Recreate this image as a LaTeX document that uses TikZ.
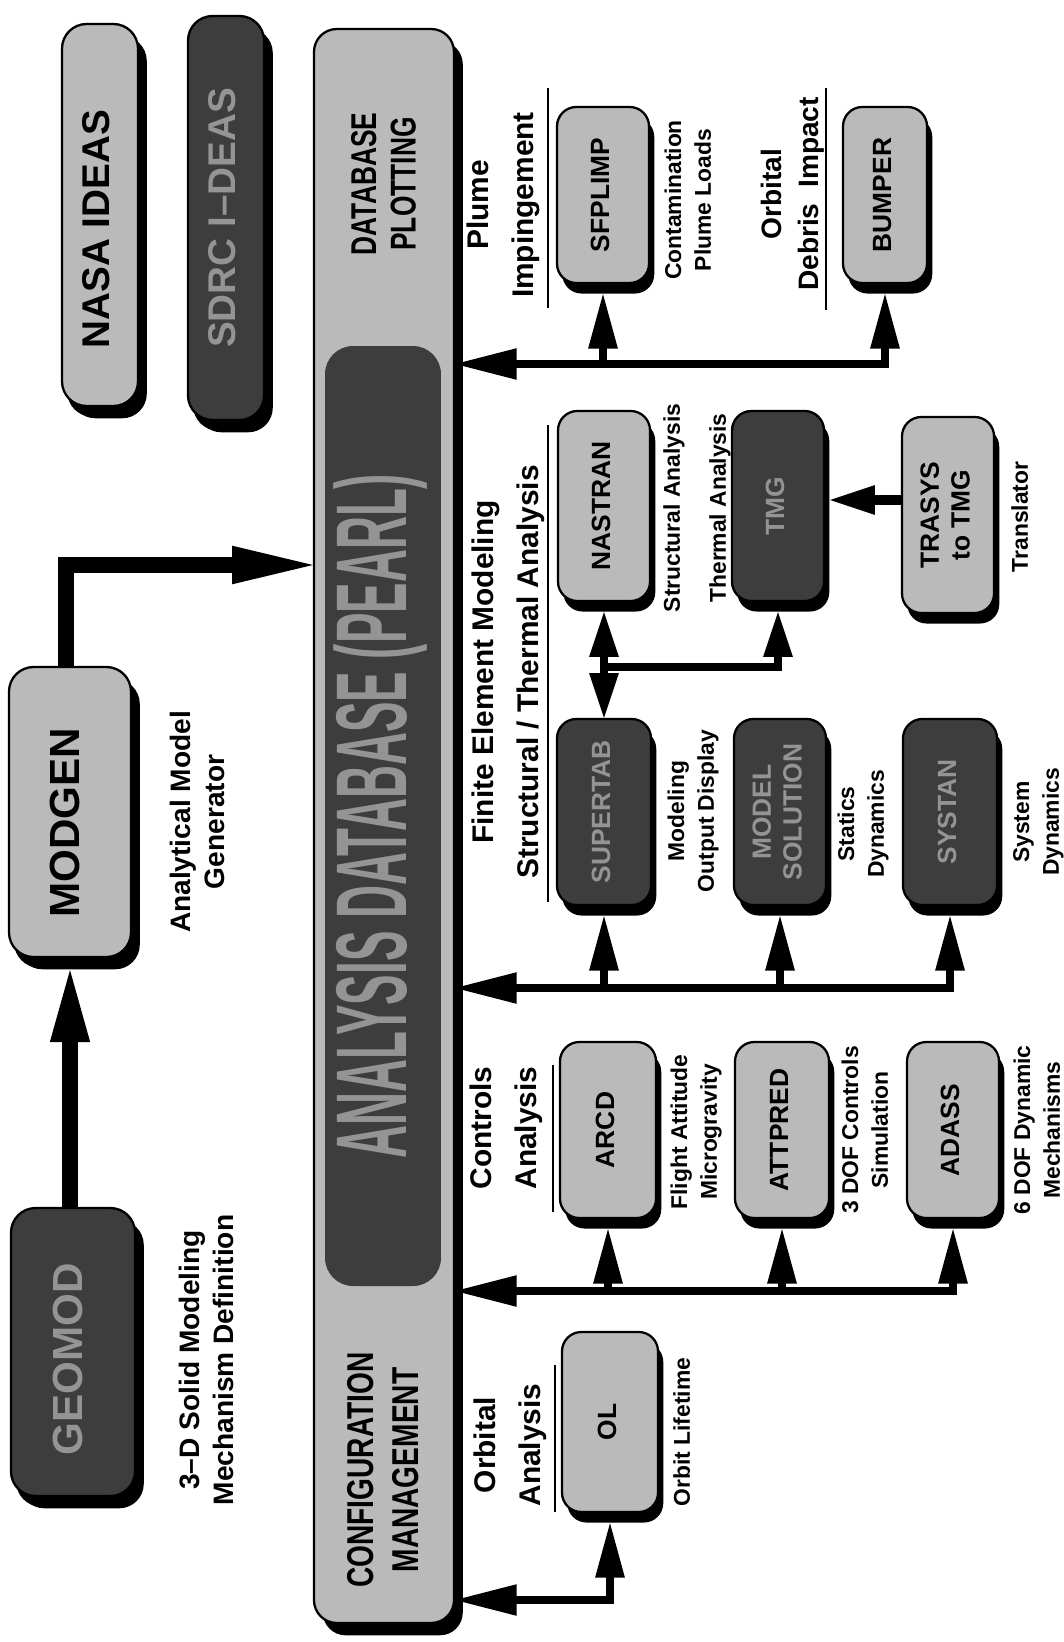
\documentclass[tikz,border=0pt]{standalone}
\usepackage{fontspec}
\setmainfont{Liberation Sans}
\usepackage{graphicx}
\usetikzlibrary{arrows.meta,shadows,calc}

% vertical (rotated) text blocks
\newcommand{\vtext}[1]{\rotatebox{90}{\begin{tabular}{@{}c@{}}#1\end{tabular}}}
\newcommand{\vstretch}[2]{\rotatebox{90}{\scalebox{1}[#1]{\begin{tabular}{@{}c@{}}#2\end{tabular}}}}

\tikzset{
  x=0.02cm, y=-0.02cm,
  sz/.style n args={2}{minimum width=#1*0.02cm, minimum height=#2*0.02cm},
  box/.style={draw=black, line width=1.3pt, rounded corners=11pt, inner sep=0pt,
              font=\fontsize{15}{17.5}\selectfont\bfseries},
  shadowS/.style={drop shadow={shadow xshift=3pt, shadow yshift=-6pt, fill=black, opacity=1}},
  shadowL/.style={drop shadow={shadow xshift=5pt, shadow yshift=-7pt, fill=black, opacity=1}},
  lightbox/.style={box, fill=black!27, shadowS},
  darkbox/.style={box, fill=black!76, text=black!42, shadowS},
  bigfont/.style={font=\fontsize{22}{26}\selectfont\bfseries, rounded corners=14pt},
  hugefont/.style={font=\fontsize{24}{28}\selectfont\bfseries, rounded corners=14pt},
  lbl/.style={inner sep=0pt, font=\fontsize{13}{17}\selectfont\bfseries},
  sidelbl/.style={inner sep=0pt, font=\fontsize{16}{19.5}\selectfont\bfseries},
  head/.style={inner sep=0pt, font=\fontsize{17}{26}\selectfont\bfseries},
  rule/.style={line width=0.9pt},
  bus/.style={line width=4.5pt, line cap=rect, line join=miter},
  heavy/.style={line width=9.6pt, line join=miter},
  toBar/.style={-{Triangle[length=35pt, width=18pt, line width=0pt]}},
  toBox/.style={-{Triangle[length=31pt, width=17pt, line width=0pt]}},
  toMid/.style={-{Triangle[length=25.5pt, width=17pt, line width=0pt]}},
  bothMid/.style={{Triangle[length=25.5pt, width=17pt, line width=0pt]}-{Triangle[length=25.5pt, width=17pt, line width=0pt]}},
  toHeavyA/.style={-{Triangle[length=46pt, width=22pt, line width=0pt]}},
  toHeavyB/.style={-{Triangle[length=41pt, width=23pt, line width=0pt]}},
}

\begin{document}
\begin{tikzpicture}
\useasboundingbox[fill=white] (0,0) rectangle (1063,1642);

% ---- tool suites --------------------------------------------------------
\node[lightbox, bigfont, shadowL, sz={76}{382}] (nasa) at (100,215) {\vtext{NASA IDEAS\hspace*{16pt}}};
\node[darkbox, bigfont, shadowL, sz={76}{404}] (sdrc) at (226,218) {\vtext{SDRC I–DEAS}};

% ---- central database bar -----------------------------------------------
\node[box, fill=black!27, rounded corners=13pt, shadowL, sz={140}{1594}] (bar) at (384,826) {};
\node[box, fill=black!76, text=black!42, rounded corners=16pt, draw=none, sz={98}{940}] (pearl) at (383,816)
  {\fontsize{26}{30}\selectfont\vstretch{2.2}{ANALYSIS DATABASE (PEARL)}};
\node[inner sep=0pt, font=\fontsize{15}{16.5}\selectfont\bfseries] (plotting) at (388,184)
  {\vstretch{1.36}{DATABASE\\PLOTTING}};
\node[inner sep=0pt, font=\fontsize{16}{19}\selectfont\bfseries] (config) at (387,1470)
  {\vstretch{1.33}{CONFIGURATION\\MANAGEMENT}};

% ---- model generation ---------------------------------------------------
\node[lightbox, hugefont, shadowL, sz={122}{290}] (modgen) at (70,812) {\vtext{MODGEN\hspace*{12pt}}};
\node[darkbox, hugefont, shadowL, sz={124}{288}] (geomod) at (73,1352) {\vtext{GEOMOD\hspace*{8pt}}};
\node[sidelbl] (modgenlbl) at (201,822) {\vtext{Analytical Model\\Generator}};
\node[sidelbl] (geomodlbl) at (210,1360) {\vtext{3–D Solid Modeling\\Mechanism Definition}};

\coordinate (mbend) at (66,565);
\draw[heavy, toHeavyA] (modgen.north -| mbend) -- (mbend) -- (mbend -| bar.west);
\draw[heavy, toHeavyB] (geomod.north -| modgen.south) -- ($(modgen.south)+(0,12)$);

% ---- plume impingement / debris impact ----------------------------------
\node[head] (plume) at (502,205) {\vtext{Plume\\Impingement}};
\draw[rule] (548,88) -- (548,308);
\node[lightbox, sz={92}{176}] (sfplimp) at (603,195) {\vtext{SFPLIMP}};
\node[lbl] (sfplimplbl) at (690,200) {\vtext{Contamination\\Plume Loads}};
\node[inner sep=0pt, font=\fontsize{16}{21}\selectfont\bfseries] (debris) at (793,194)
  {\vtext{Orbital\\Debris\ \ Impact}};
\draw[rule] (826,88) -- (826,310);
\node[lightbox, sz={84}{176}] (bumper) at (885,195) {\vtext{BUMPER}};

\coordinate (bus1) at (455,364);
\draw[bus, toBar] (bumper.south |- bus1) -- (bar.east |- bus1);
\draw[bus, toBox] (sfplimp.south |- bus1) -- ($(sfplimp.south)+(0,10)$);
\draw[bus, toBox] (bumper.south |- bus1) -- ($(bumper.south)+(0,10)$);

% ---- finite element modeling --------------------------------------------
\node[head] (fem) at (507,672) {\vtext{Finite Element Modeling\\Structural / Thermal Analysis}};
\draw[rule] (548,425) -- (548,902);
\node[lightbox, sz={92}{190}] (nastran) at (604,506) {\vtext{NASTRAN}};
\node[lbl] (nastranlbl) at (674,508) {\vtext{Structural Analysis}};
\node[darkbox, sz={92}{190}] (tmg) at (778,506) {\vtext{TMG}};
\node[lbl] (tmglbl) at (720,508) {\vtext{Thermal Analysis}};
\node[lightbox, sz={92}{196}] (trasys) at (948,515) {\vtext{TRASYS\\to TMG}};
\node[lbl] (trasyslbl) at (1022,517) {\vtext{Translator}};

\node[darkbox, sz={94}{186}] (supertab) at (604,812) {\vtext{SUPERTAB}};
\node[lbl] (supertablbl) at (693,811) {\vtext{Modeling\\Output Display}};
\node[darkbox, sz={92}{186}] (modsol) at (780,812) {\vtext{MODEL\\SOLUTION}};
\node[lbl] (modsollbl) at (863,824) {\vtext{Statics\\Dynamics}};
\node[darkbox, sz={94}{186}] (systan) at (950,812) {\vtext{SYSTAN}};
\node[lbl] (systanlbl) at (1038,822) {\vtext{System\\Dynamics}};

\coordinate (trline) at (900,500);
\draw[line width=5.7pt, toMid] (trasys.west |- trline) -- ($(tmg.east |- trline)+(5,0)$);

\coordinate (femjoin) at (604,667);
\draw[bus, bothMid] ($(nastran.south)+(0,10)$) -- (supertab.north);
\draw[bus, toMid] (femjoin) -| ($(tmg.south)+(0,10)$);

\coordinate (bus2) at (455,988);
\draw[bus, toBar] (systan.south |- bus2) -- (bar.east |- bus2);
\draw[bus, toBox] (supertab.south |- bus2) -- ($(supertab.south)+(0,10)$);
\draw[bus, toBox] (modsol.south |- bus2) -- ($(modsol.south)+(0,10)$);
\draw[bus, toBox] (systan.south |- bus2) -- ($(systan.south)+(0,10)$);

% ---- controls analysis --------------------------------------------------
\node[head] (ctrl) at (505,1128) {\vtext{Controls\\Analysis}};
\draw[rule] (553,1065) -- (553,1212);
\node[lightbox, sz={96}{176}] (arcd) at (608,1130) {\vtext{ARCD}};
\node[lbl] (arcdlbl) at (696,1132) {\vtext{Flight Attitude\\Microgravity}};
\node[lightbox, sz={94}{176}] (attpred) at (782,1130) {\vtext{ATTPRED}};
\node[lbl] (attpredlbl) at (867,1130) {\vtext{3 DOF Controls\\Simulation}};
\node[lightbox, sz={92}{176}] (adass) at (953,1130) {\vtext{ADASS}};
\node[lbl] (adasslbl) at (1039,1130) {\vtext{6 DOF Dynamic\\Mechanisms}};

\coordinate (bus3) at (455,1291);
\draw[bus, toBar] (adass.south |- bus3) -- (bar.east |- bus3);
\draw[bus, toBox] (arcd.south |- bus3) -- ($(arcd.south)+(0,10)$);
\draw[bus, toBox] (attpred.south |- bus3) -- ($(attpred.south)+(0,10)$);
\draw[bus, toBox] (adass.south |- bus3) -- ($(adass.south)+(0,10)$);

% ---- orbital analysis ---------------------------------------------------
\node[head] (orb) at (509,1445) {\vtext{Orbital\\Analysis}};
\draw[rule] (555,1365) -- (555,1512);
\node[lightbox, sz={96}{180}] (ol) at (610,1422) {\vtext{OL}};
\node[lbl] (ollbl) at (684,1432) {\vtext{Orbit Lifetime}};

\coordinate (bus4) at (455,1600);
\draw[bus, toBar] (ol.south |- bus4) -- (bar.east |- bus4);
\draw[bus, toBox] (ol.south |- bus4) -- ($(ol.south)+(0,10)$);

\end{tikzpicture}
\end{document}
